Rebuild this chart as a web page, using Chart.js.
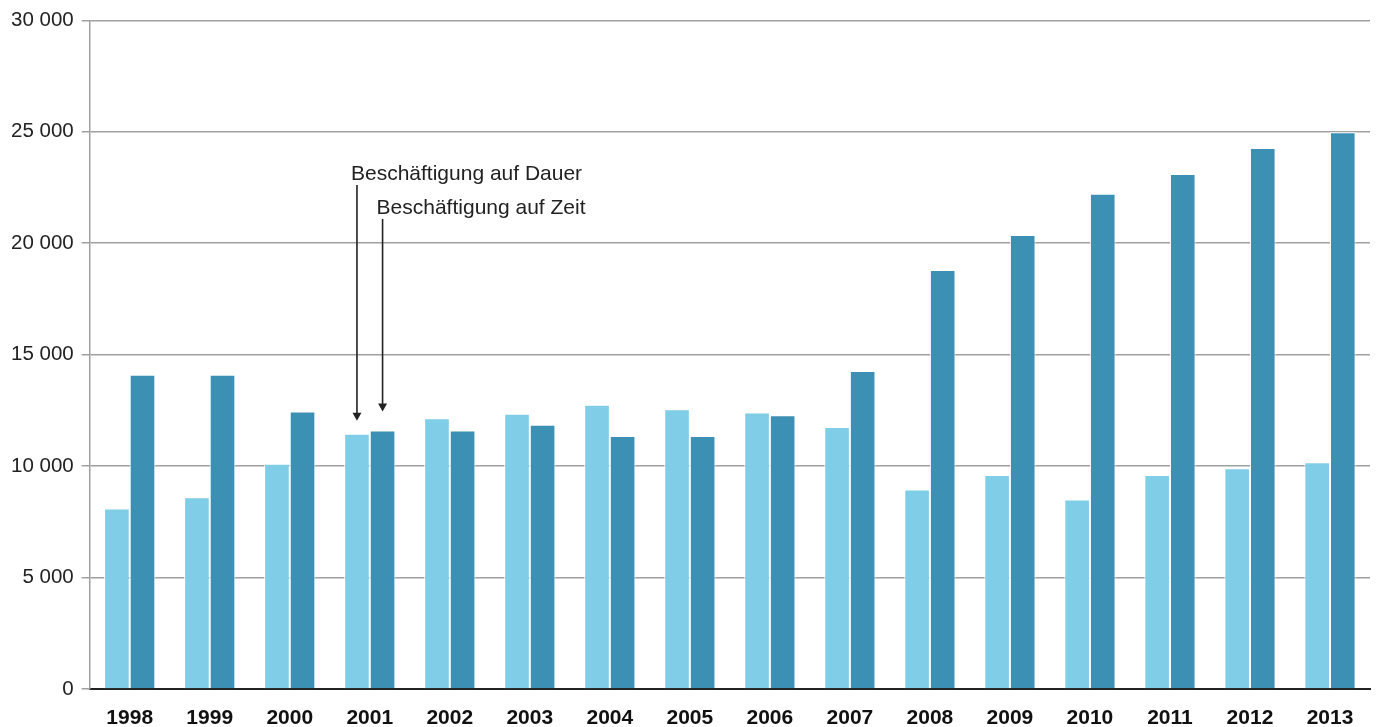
<!DOCTYPE html>
<html lang="de">
<head>
<meta charset="utf-8">
<title>Beschäftigung auf Dauer / auf Zeit</title>
<script src="https://cdn.jsdelivr.net/npm/chart.js@4.4.1/dist/chart.umd.min.js"></script>
<style>
  html, body { margin: 0; padding: 0; background: #fff; }
  #wrap { width: 1378px; height: 727px; position: relative; }
</style>
</head>
<body>
<div id="wrap"><canvas id="myChart"></canvas></div>
<script>
// Jahre und Werte
const years = ['1998','1999','2000','2001','2002','2003','2004','2005','2006','2007','2008','2009','2010','2011','2012','2013'];
const dauer = [8100, 8600, 10100, 11450, 12150, 12350, 12750, 12550, 12400, 11750, 8950, 9600, 8500, 9600, 9900, 10170];
const zeit = [14100, 14100, 12450, 11600, 11600, 11850, 11350, 11350, 12280, 14270, 18800, 20370, 22220, 23100, 24270, 24980];
const yTicks = [0, 5000, 10000, 15000, 20000, 25000, 30000];

const labelDauer = 'Beschäftigung auf Dauer';
const labelZeit = 'Beschäftigung auf Zeit';
const noteIndex = 3; // 2001

const fontFamily = '"Liberation Sans", Arial, Helvetica, sans-serif';

// Zahlen mit Leerzeichen als Tausendertrenner
const formatNumber = (n) => n.toString().replace(/\B(?=(\d{3})+(?!\d))/g, ' ');

// Plugin für die beiden Pfeile mit Beschriftung
const arrowNotes = {
  id: 'arrowNotes',
  afterDatasetsDraw(chart) {
    const ctx = chart.ctx;
    const y = chart.scales.y;
    const barA = chart.getDatasetMeta(0).data[noteIndex];
    const barB = chart.getDatasetMeta(1).data[noteIndex];

    const drawArrow = (x, yStart, yEnd) => {
      ctx.save();
      ctx.strokeStyle = '#222';
      ctx.fillStyle = '#222';
      ctx.lineWidth = 1.6;
      ctx.beginPath();
      ctx.moveTo(x, yStart);
      ctx.lineTo(x, yEnd - 6);
      ctx.stroke();
      ctx.beginPath();
      ctx.moveTo(x - 4.5, yEnd - 8);
      ctx.lineTo(x + 4.5, yEnd - 8);
      ctx.lineTo(x, yEnd);
      ctx.closePath();
      ctx.fill();
      ctx.restore();
    };

    ctx.save();
    ctx.font = '21px ' + fontFamily;
    ctx.fillStyle = '#222';
    ctx.textAlign = 'left';
    ctx.textBaseline = 'alphabetic';
    const topA = y.getPixelForValue(dauer[noteIndex]);
    const topB = y.getPixelForValue(zeit[noteIndex]);
    ctx.fillText(labelDauer, barA.x - 6, 180);
    ctx.fillText(labelZeit, barB.x - 6, 214);
    ctx.restore();

    drawArrow(barA.x, 185, topA - 13);
    drawArrow(barB.x, 219, topB - 19);
  }
};

let myChart = document.getElementById('myChart');
let firstGraphic = new Chart(myChart, {
  type: 'bar',
  data: {
    labels: years,
    datasets: [
      {
        label: labelDauer,
        data: dauer,
        backgroundColor: 'rgb(127, 205, 230)',
        borderColor: '#ffffff',
        borderWidth: 1,
        borderSkipped: 'bottom'
      },
      {
        label: labelZeit,
        data: zeit,
        backgroundColor: 'rgb(60, 144, 179)',
        borderColor: '#ffffff',
        borderWidth: 1,
        borderSkipped: 'bottom'
      }
    ]
  },
  options: {
    responsive: true,
    maintainAspectRatio: false,
    animation: false,
    layout: {
      padding: { top: 11, right: 8, left: 3, bottom: 0 }
    },
    datasets: {
      bar: {
        categoryPercentage: 0.64,
        barPercentage: 1
      }
    },
    scales: {
      x: {
        grid: { display: false, drawTicks: false },
        border: { display: true, color: '#222', width: 2 },
        afterFit: (scale) => { scale.height = 38; },
        ticks: {
          padding: 17,
          color: '#111',
          font: { family: fontFamily, size: 21, weight: 'bold' }
        }
      },
      y: {
        min: 0,
        max: 30000,
        afterBuildTicks: (scale) => {
          scale.ticks = yTicks.map(v => ({ value: v }));
        },
        grid: {
          color: '#a0a0a0',
          lineWidth: 1.5,
          tickLength: 8
        },
        border: { display: true, color: '#a0a0a0', width: 1.5 },
        ticks: {
          padding: 8,
          color: '#222',
          font: { family: fontFamily, size: 20.5 },
          callback: (value) => formatNumber(value)
        }
      }
    },
    plugins: {
      legend: { display: false },
      tooltip: { enabled: false }
    }
  },
  plugins: [arrowNotes]
});
</script>
</body>
</html>
